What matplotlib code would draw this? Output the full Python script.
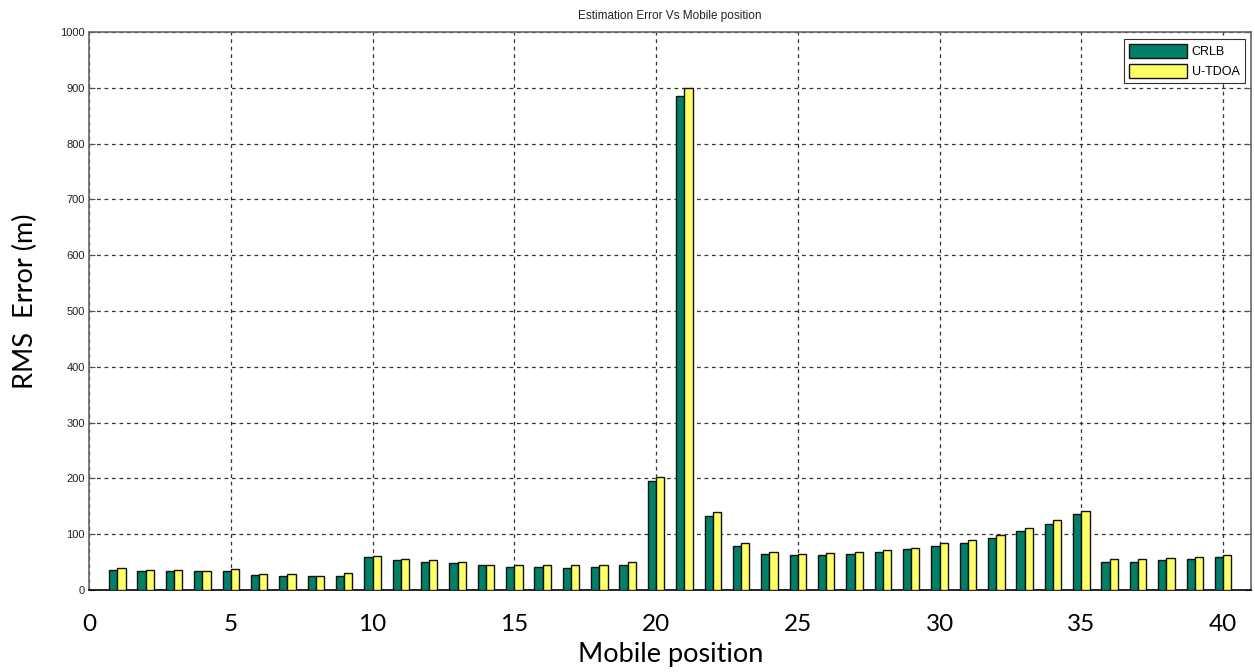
import matplotlib.pyplot as plt
import numpy as np

positions = np.arange(1, 41)
crlb = [36, 34, 34, 34, 34, 27, 26, 26, 26, 59,
        53, 50, 48, 44, 42, 42, 40, 42, 45, 195,
        885, 132, 78, 64, 63, 63, 64, 68, 73, 78,
        84, 93, 106, 118, 136, 51, 51, 53, 55, 59]
utdoa = [40, 36, 36, 34, 38, 28, 28, 26, 30, 61,
         55, 53, 50, 45, 45, 45, 44, 44, 50, 203,
         900, 140, 84, 68, 65, 66, 68, 71, 76, 84,
         90, 99, 111, 125, 142, 55, 55, 57, 59, 63]
xticks = [0, 5, 10, 15, 20, 25, 30, 35, 40]
yticks = [0, 100, 200, 300, 400, 500, 600, 700, 800, 900, 1000]

fig = plt.figure(figsize=(12.55, 6.72), dpi=100)
ax = fig.add_axes([0.0709, 0.122, 0.9263, 0.8304])

w = 0.29
ax.bar(positions - w / 2, crlb, width=w, color='#008066', edgecolor='#111111',
       linewidth=1.0, label='CRLB', zorder=3)
ax.bar(positions + w / 2, utdoa, width=w, color='#FFFF66', edgecolor='#111111',
       linewidth=1.0, label='U-TDOA', zorder=3)

ax.set_xlim(0, 41)
ax.set_ylim(0, 1000)
ax.set_xticks(xticks)
ax.set_yticks(yticks)
ax.set_xticklabels([str(t) for t in xticks], fontfamily='Lato', fontsize=17.5)
ax.set_yticklabels([str(t) for t in yticks], fontfamily='Liberation Sans', fontsize=8,
                   color='#222222')
ax.tick_params(axis='both', direction='in', length=4, color='#555555')
ax.tick_params(axis='x', pad=17, length=0)
ax.tick_params(axis='y', pad=3, right=True)
ax.grid(True, linestyle=(0, (3, 3)), color='#333333', linewidth=0.9, zorder=0)
for s in ax.spines.values():
    s.set_color('#666666')
    s.set_linewidth(1.2)
ax.spines['bottom'].set_color('#000000')

ax.set_title('Estimation Error Vs Mobile position', fontfamily='Liberation Sans',
             fontsize=8.5, color='#222222', pad=9)
ax.set_xlabel('Mobile position', fontfamily='Lato', fontsize=19.5, labelpad=5)
ax.set_ylabel('RMS  Error (m)', fontfamily='Lato', fontsize=19.5)
ax.yaxis.set_label_coords(-0.044, 0.518)

leg = ax.legend(loc='upper right', prop={'family': 'Liberation Sans', 'size': 9},
                fancybox=False, framealpha=1, edgecolor='#333333',
                handlelength=4.6, handleheight=1.4, borderaxespad=0.55,
                labelspacing=0.45, handletextpad=0.4, borderpad=0.4)
leg.get_frame().set_linewidth(0.8)

fig.savefig('out.png', dpi=100)
